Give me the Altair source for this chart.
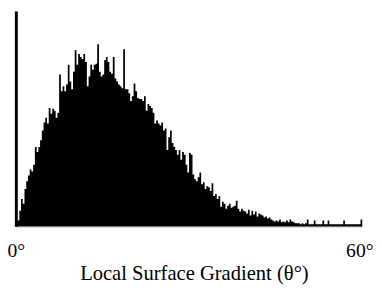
import altair as alt
import pandas as pd

# Histogram of local surface gradient (degrees), bin width 0.3 deg, 0..60
bin_width = 0.3
counts = [
    30, 30, 80, 140, 115, 190, 230, 260, 290, 280,
    315, 405, 380, 405, 440, 490, 530, 555, 525, 605,
    575, 600, 590, 555, 580, 775, 690, 715, 690, 725,
    825, 740, 700, 790, 900, 825, 880, 865, 855, 880,
    840, 715, 765, 825, 800, 825, 830, 930, 790, 765,
    775, 850, 865, 840, 790, 780, 865, 755, 740, 725,
    715, 705, 905, 700, 700, 680, 640, 665, 730, 690,
    655, 650, 650, 640, 665, 590, 625, 615, 605, 580,
    525, 540, 525, 515, 530, 490, 500, 390, 455, 490,
    425, 405, 390, 365, 390, 340, 380, 365, 315, 275,
    375, 365, 265, 240, 230, 250, 275, 215, 225, 190,
    205, 200, 180, 220, 155, 165, 140, 155, 100, 125,
    115, 90, 105, 115, 95, 100, 105, 130, 90, 75,
    90, 80, 75, 65, 85, 55, 80, 60, 75, 50,
    65, 60, 55, 45, 50, 40, 45, 35, 30, 25,
    30, 25, 35, 20, 25, 20, 30, 20, 35, 25,
    20, 15, 15, 15, 10, 15, 10, 15, 35, 10,
    10, 10, 30, 10, 10, 10, 10, 30, 10, 10,
    30, 10, 10, 10, 10, 10, 10, 10, 10, 30,
    10, 10, 10, 10, 10, 10, 10, 10, 10, 35,
]
tick_values = [0, 60]
x_title = "Local Surface Gradient (θ°)"

starts = [round(i * bin_width, 4) for i in range(len(counts))]
df = pd.DataFrame({"theta": starts + [60.0], "count": counts + [counts[-1]]})

chart = (
    alt.Chart(df)
    .mark_area(interpolate="step-after", color="black", fillOpacity=1)
    .encode(
        x=alt.X(
            "theta:Q",
            scale=alt.Scale(domain=[0, 60], nice=False, zero=True),
            axis=alt.Axis(
                values=tick_values,
                labelExpr="datum.value + '°'",
                ticks=False,
                tickSize=0,
                grid=False,
                domain=True,
                domainColor="#777777",
                domainWidth=1,
                labelFont="Liberation Serif",
                labelFontSize=20,
                labelColor="black",
                labelBaseline="alphabetic",
                labelPadding=31,
                labelFlush=False,
                labelOverlap=False,
                labelOffset={"condition": {"test": "datum.value == 60", "value": -3}, "value": 0},
                title=x_title,
                titleFont="Liberation Serif",
                titleFontSize=21,
                titleFontWeight="normal",
                titleColor="black",
                titleBaseline="alphabetic",
                titleY=54,
                titleX=182,
            ),
        ),
        y=alt.Y(
            "count:Q",
            scale=alt.Scale(domain=[0, 1100], nice=False),
            axis=alt.Axis(
                labels=False,
                ticks=False,
                tickSize=0,
                grid=False,
                domain=True,
                domainColor="black",
                domainWidth=3,
                title="",
            ),
        ),
    )
    .properties(
        width=354,
        height=220,
        autosize=alt.AutoSizeParams(type="none"),
        padding={"left": 8, "top": 0, "right": 12, "bottom": 60},
    )
    .configure_view(strokeWidth=0)
)

chart.save("out.html", embed_options={"renderer": "svg", "actions": False})
